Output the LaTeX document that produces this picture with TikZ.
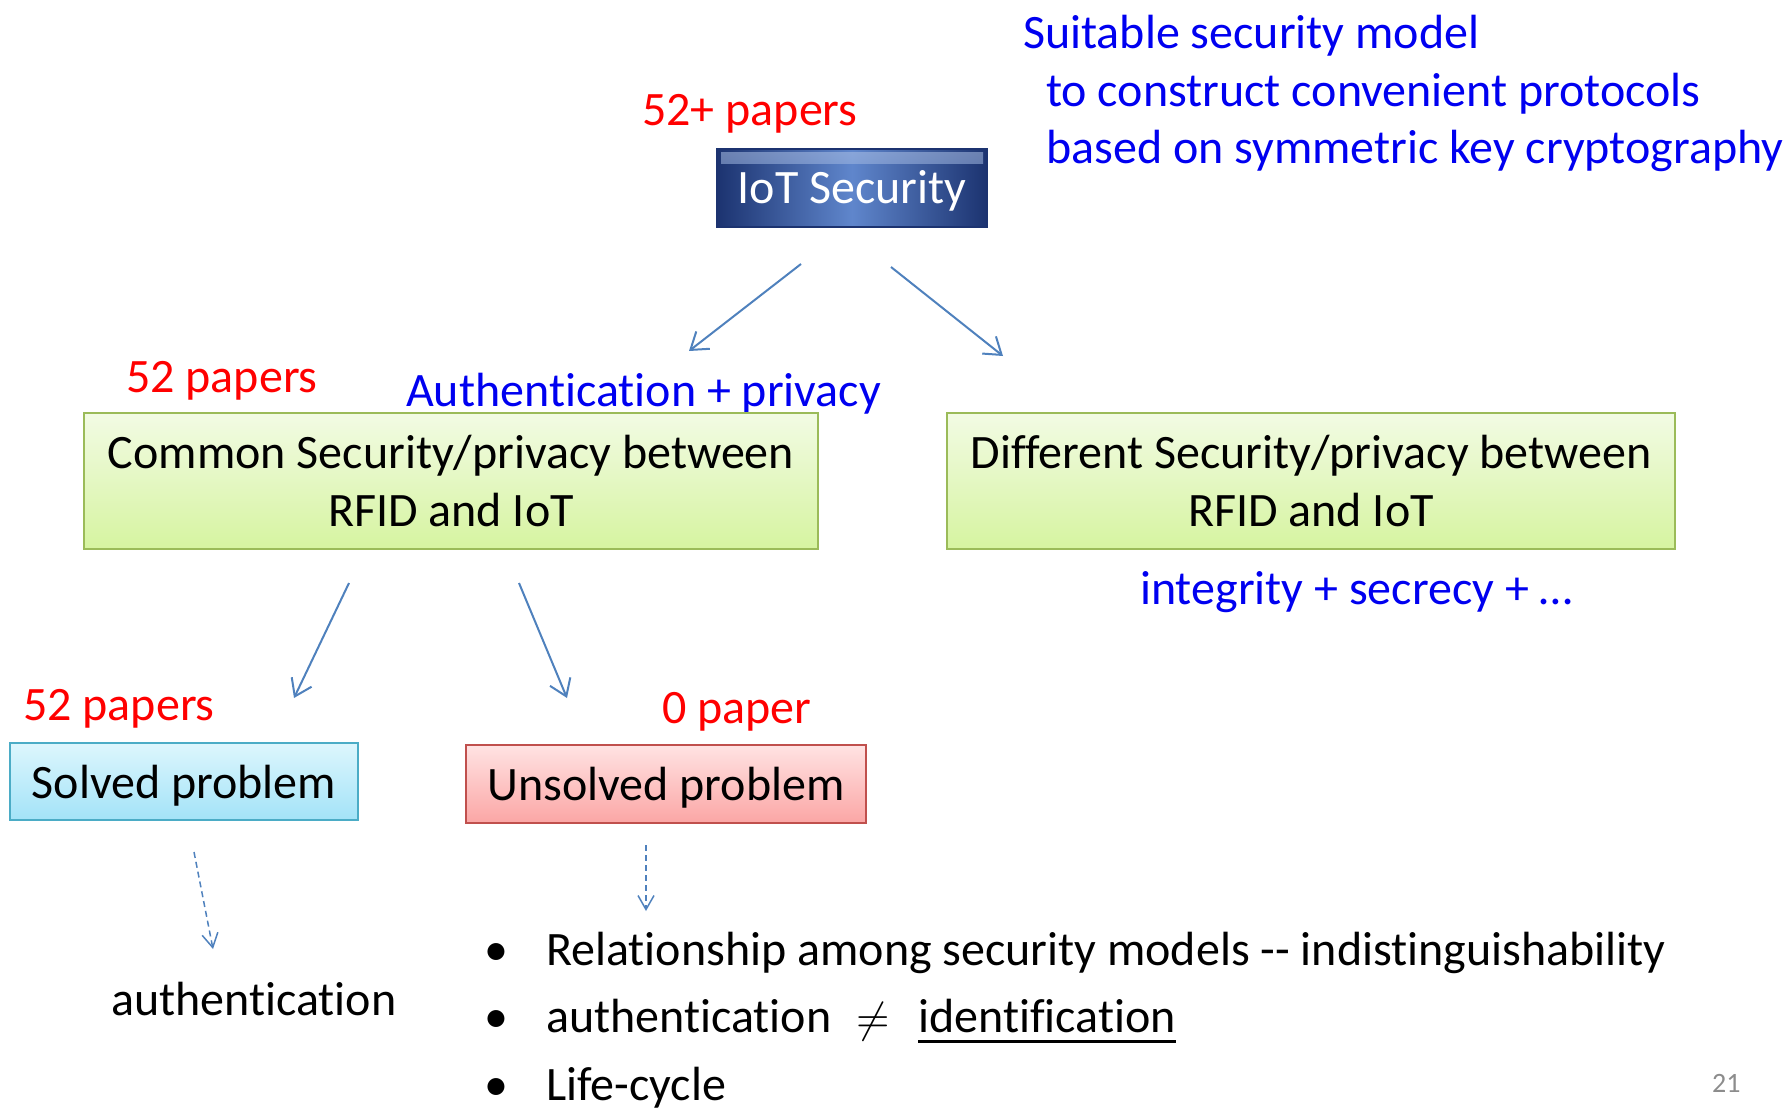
\documentclass[tikz,border=0pt]{standalone}
\usepackage{fontspec}
\setmainfont[Ligatures={NoCommon}]{Carlito}
\usetikzlibrary{arrows.meta,calc}
\definecolor{arrowblue}{HTML}{4F81BD}
\definecolor{txtblue}{HTML}{0000F0}
\definecolor{txtred}{HTML}{FF0000}
\definecolor{iotdark}{HTML}{1C3370}
\definecolor{iotlight}{HTML}{5F86CC}
\definecolor{greenedge}{HTML}{9BBB59}
\definecolor{greentop}{HTML}{F2FBE4}
\definecolor{greenbot}{HTML}{D6F4A0}
\definecolor{cyanedge}{HTML}{4BACC6}
\definecolor{cyantop}{HTML}{DDF6FD}
\definecolor{cyanbot}{HTML}{A3E3F8}
\definecolor{rededge}{HTML}{C0504D}
\definecolor{redtop}{HTML}{FFE3E3}
\definecolor{redbot}{HTML}{FBA6A5}
% lower a box label without changing its measured size
\newcommand{\lowered}[2]{\raisebox{-#1}[\height][\depth]{#2}}
\begin{document}
\begin{tikzpicture}[x=1pt,y=-1pt,
  every node/.style={inner sep=0pt},
  big/.style={font=\fontsize{48}{58}\selectfont},
  lbl/.style={big, anchor=base west},
  redlbl/.style={lbl, text=txtred},
  bluelbl/.style={lbl, text=txtblue},
  greenbox/.style={big, draw=greenedge, line width=2, top color=greentop, bottom color=greenbot, align=center},
  solvedbox/.style={big, draw=cyanedge, line width=2.5, top color=cyantop, bottom color=cyanbot},
  unsolvedbox/.style={big, draw=rededge, line width=2.5, top color=redtop, bottom color=redbot},
  link/.style={draw=arrowblue, line width=2, -{Straight Barb[length=16,width=22,line width=2]}},
  dlink/.style={draw=arrowblue, line width=1.5, dash pattern=on 6 off 4, -{Straight Barb[length=14,width=16,line width=1.5]}}
]
\useasboundingbox (0,0) rectangle (1789,1109);

% top: IoT Security root box with a light bevel along its upper edge
\node[redlbl] (ptop) at (642,125) {52+ papers};
\node[big, text=white, draw=iotdark, line width=2, minimum width=270, minimum height=78,
      left color=iotdark, right color=iotdark, middle color=iotlight,
      path picture={\shade[top color=iotlight!50!white, bottom color=iotlight, opacity=0.55]
        ($(path picture bounding box.north west)+(4,3)$) rectangle
        ($(path picture bounding box.north east)+(-4,14)$);}] (iot) at (852,188) {\lowered{3pt}{IoT Security}};

\node[bluelbl] (m1) at (1023,48) {Suitable security model};
\node[bluelbl] (m2) at (1046,106) {to construct convenient protocols};
\node[bluelbl] (m3) at (1046,163) {based on symmetric key cryptography};

% second level
\node[redlbl] (pmid) at (126,392) {52 papers};
\node[bluelbl] (auth) at (406,406) {Authentication + privacy};
\node[greenbox, minimum width=734, minimum height=136] (common) at (451,481)
  {Common Security/privacy between\\RFID and IoT};
\node[greenbox, minimum width=728, minimum height=136] (diff) at (1311,481)
  {Different Security/privacy between\\RFID and IoT};
\node[bluelbl] (integ) at (1140,604) {integrity + secrecy + …};

\coordinate (a1s) at (801,264);
\coordinate (a1e) at (689,351);
\coordinate (a2s) at (891,267);
\coordinate (a2e) at (1003,356);
\draw[link] (a1s) -- (a1e);
\draw[link] (a2s) -- (a2e);

% third level
\node[redlbl] (plow) at (23,720) {52 papers};
\node[redlbl] (pzero) at (662,723) {0 paper};
\node[solvedbox, minimum width=348, minimum height=77] (solved) at (184,781.5) {\lowered{4pt}{Solved problem}};
\node[unsolvedbox, minimum width=400, minimum height=78] (unsolved) at (666,784) {\lowered{4pt}{Unsolved problem}};

\coordinate (b1s) at (349,583);
\coordinate (b1e) at (294,698);
\coordinate (b2s) at (519,583);
\coordinate (b2e) at (567,698);
\draw[link] (b1s) -- (b1e);
\draw[link] (b2s) -- (b2e);

% leaves
\coordinate (c1s) at (194,852);
\coordinate (c1e) at (213,949);
\coordinate (c2s) at (646,845);
\coordinate (c2e) at (646,911);
\draw[dlink] (c1s) -- (c1e);
\draw[dlink] (c2s) -- (c2e);

\node[lbl] (authleaf) at (111,1015) {authentication};

\node[lbl] (bul1) at (484,965) {•};
\node[lbl] (bul2) at (484,1032) {•};
\node[lbl] (bul3) at (484,1100) {•};
\node[lbl] (it1) at (546,965) {Relationship among security models -{}- indistinguishability};
\node[lbl] (it2) at (546,1032) {authentication};
\node[anchor=base west] (neq) at (856,1032) {\scalebox{4.3}{$\neq$}};
\node[lbl] (idn) at (918,1032) {identification};
\draw[line width=3] ([yshift=-9]idn.base west) -- ([yshift=-9]idn.base east);
\node[lbl] (it3) at (546,1100) {Life-cycle};

\node[font=\fontsize{28}{34}\selectfont, text=black!45, anchor=base west] (pg) at (1712,1092) {21};
\end{tikzpicture}
\end{document}
